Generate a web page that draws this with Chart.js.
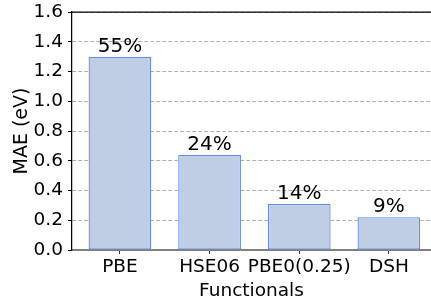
<!DOCTYPE html>
<html>
<head>
<meta charset="utf-8">
<script src="https://cdn.jsdelivr.net/npm/chart.js@4"></script>
<style>
  html, body { margin: 0; padding: 0; background: #fff; overflow: hidden; }
  #wrap { width: 431px; height: 303px; position: relative; }
</style>
</head>
<body>
<div id="wrap"><canvas id="barchart"></canvas></div>
<script>
// data
const functionals = ['PBE', 'HSE06', 'PBE0(0.25)', 'DSH'];
const maeValues = [1.30, 0.64, 0.31, 0.22];
const percentLabels = ['55%', '24%', '14%', '9%'];
const yTicks = [0, 0.2, 0.4, 0.6, 0.8, 1.0, 1.2, 1.4, 1.6];

const FONT = 'DejaVu Sans';

// draws the % text over each bar and the top frame line
const extrasPlugin = {
  id: 'extras',
  afterDatasetsDraw(chart) {
    const ctx = chart.ctx;
    const meta = chart.getDatasetMeta(0);
    ctx.save();
    ctx.font = '20px "' + FONT + '"';
    ctx.fillStyle = '#000';
    ctx.textAlign = 'center';
    ctx.textBaseline = 'alphabetic';
    meta.data.forEach((bar, i) => {
      ctx.fillText(percentLabels[i], bar.x, bar.y - 5);
    });
    // top spine
    const a = chart.chartArea;
    ctx.strokeStyle = '#000';
    ctx.lineWidth = 1.25;
    ctx.beginPath();
    ctx.moveTo(a.left, a.top);
    ctx.lineTo(a.right, a.top);
    ctx.stroke();
    ctx.restore();
  }
};

const ctx = document.getElementById('barchart').getContext('2d');
new Chart(ctx, {
  type: 'bar',
  data: {
    datasets: [{
      data: maeValues.map((v, i) => ({ x: i, y: v })),
      backgroundColor: 'rgb(191, 206, 228)',
      borderColor: 'rgb(104, 140, 232)',
      borderWidth: 1.3,
      borderSkipped: false,
      categoryPercentage: 1,
      barPercentage: 0.7
    }]
  },
  options: {
    responsive: true,
    maintainAspectRatio: false,
    animation: false,
    layout: { padding: { top: 12, right: 0, left: 0, bottom: 0 } },
    plugins: {
      legend: { display: false },
      tooltip: { enabled: false }
    },
    scales: {
      x: {
        type: 'linear',
        offset: false,
        min: -0.535,
        max: 3.47,
        afterFit: s => { s.height = 53; s.paddingLeft = 0; s.paddingRight = 0; },
        grid: {
          offset: false,
          drawOnChartArea: false,
          drawTicks: true,
          tickLength: 4,
          tickColor: '#333'
        },
        border: { color: '#808080', width: 2 },
        ticks: {
          stepSize: 1,
          includeBounds: false,
          autoSkip: false,
          maxRotation: 0,
          padding: 2,
          color: '#000',
          font: { family: FONT, size: 18.5 },
          callback: v => Number.isInteger(v) ? functionals[v] : ''
        },
        title: {
          display: true,
          text: 'Functionals',
          color: '#000',
          font: { family: FONT, size: 18.5 },
          padding: { top: 0, bottom: 1 }
        }
      },
      y: {
        min: 0,
        max: 1.6,
        afterFit: s => { s.width = 72; s.paddingTop = 0; s.paddingBottom = 0; },
        afterBuildTicks: s => { s.ticks = yTicks.map(v => ({ value: v })); },
        grid: {
          color: '#b0b0b0',
          lineWidth: 1,
          drawTicks: true,
          tickLength: 4,
          tickColor: '#000',
          tickBorderDash: []
        },
        border: { color: '#000', width: 1.25, dash: [4, 2] },
        ticks: {
          padding: 5,
          color: '#000',
          font: { family: FONT, size: 18.5 },
          callback: v => v.toFixed(1)
        },
        title: {
          display: true,
          text: 'MAE (eV)',
          color: '#000',
          font: { family: FONT, size: 19 },
          padding: { top: 11, bottom: 2 }
        }
      }
    }
  },
  plugins: [extrasPlugin]
});
</script>
</body>
</html>
